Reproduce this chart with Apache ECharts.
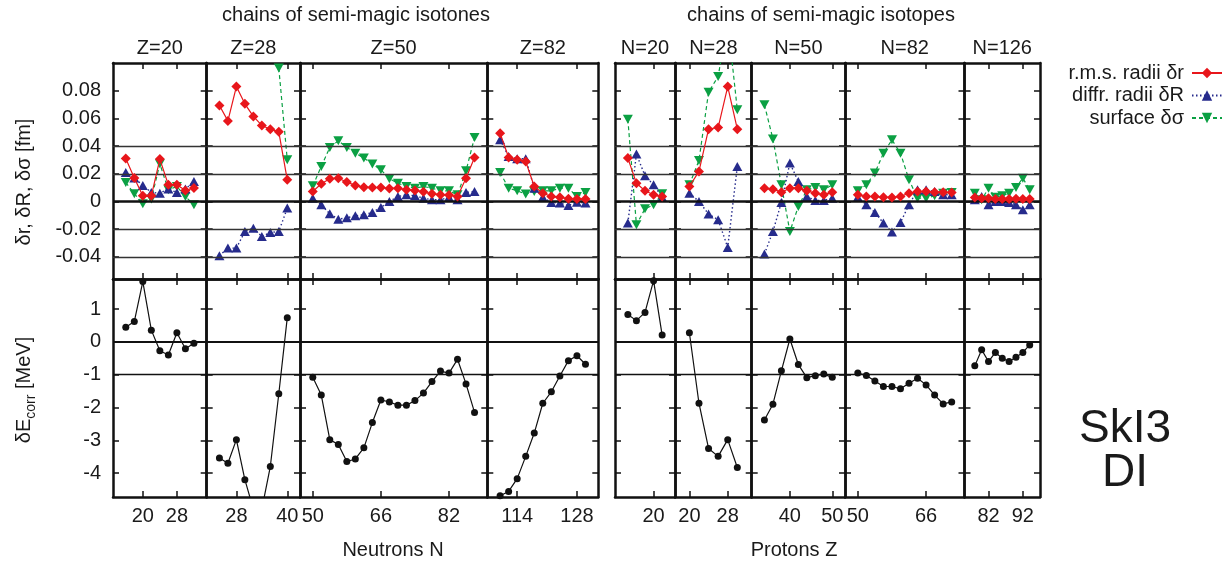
<!DOCTYPE html>
<html><head><meta charset="utf-8">
<script src="https://cdn.jsdelivr.net/npm/echarts@6/dist/echarts.min.js"></script>
<style>html,body{margin:0;padding:0;background:#fff;} #c{width:1232px;height:565px;}</style>
</head><body><div id="c"></div>
<script>
// ---------------- DATA ----------------
const chainLabels = ['Z=20','Z=28','Z=50','Z=82','N=20','N=28','N=50','N=82','N=126'];

// isotone chains (x = neutron number N)
const x_Z20  = [16,18,20,22,24,26,28,30,32];
const dr_Z20 = [0.031,0.017,0.0041,0.0041,0.0306,0.012,0.012,0.0079,0.0097];
const dR_Z20 = [0.021,0.017,0.0116,0.0065,0.006,0.009,0.0065,0.009,0.0144];
const ds_Z20 = [0.0137,0.0056,-0.0017,0.0017,0.0272,0.0084,0.0108,0.0036,-0.0024];
const dE_Z20 = [0.45,0.62,1.84,0.36,-0.27,-0.40,0.28,-0.21,-0.04];

const x_Z28  = [24,26,28,30,32,34,36,38,40];
const dr_Z28 = [0.0693,0.0582,0.083,0.0705,0.0614,0.0549,0.0522,0.0503,0.0156];
const dR_Z28 = [-0.0392,-0.0337,-0.0337,-0.0217,-0.0193,-0.0253,-0.0224,-0.0217,-0.0048];
const ds_Z28 = [null,null,null,null,null,null,null,0.0963,0.0301];
const dE_Z28 = [-3.54,-3.70,-2.98,-4.20,-5.1,-5.1,-3.80,-1.58,0.74];

const x_Z50  = [50,52,54,56,58,60,62,64,66,68,70,72,74,76,78,80,82,84,86,88];
const dr_Z50 = [0.0072,0.0128,0.0164,0.0168,0.014,0.0116,0.0103,0.0101,0.0101,0.0094,0.0096,0.0084,0.0079,0.007,0.0055,0.0048,0.0046,0.0036,0.0168,0.0318];
const dR_Z50 = [0.0024,-0.0024,-0.0089,-0.0128,-0.0118,-0.0103,-0.0096,-0.0079,-0.0043,0,0.0036,0.0048,0.0041,0.0024,0.0012,0.0012,0.0031,0.0012,0.0065,0.0072];
const ds_Z50 = [0.0113,0.0253,0.039,0.0438,0.039,0.0349,0.0313,0.027,0.0229,0.0164,0.0132,0.0108,0.0096,0.0108,0.0096,0.0077,0.0077,0.0048,0.0221,0.0462];
const dE_Z50 = [-1.08,-1.62,-2.98,-3.13,-3.65,-3.57,-3.23,-2.46,-1.77,-1.83,-1.93,-1.93,-1.79,-1.56,-1.21,-0.89,-0.95,-0.53,-1.28,-2.15];

const x_Z82  = [110,112,114,116,118,120,122,124,126,128,130];
const dr_Z82 = [0.0493,0.0318,0.0301,0.0289,0.0108,0.006,0.0036,0.0031,0.0019,0.0017,0.0017];
const dR_Z82 = [0.0445,0.0325,0.0308,0.0308,0.0096,0.0031,-0.0007,-0.0012,-0.0029,-0.0005,-0.0012];
const ds_Z82 = [0.0209,0.0096,0.0077,0.0053,0.0072,0.0077,0.0077,0.0096,0.0096,0.0036,0.0065];
const dE_Z82 = [-4.69,-4.56,-4.17,-3.49,-2.78,-1.87,-1.52,-1.04,-0.57,-0.42,-0.68];

// isotope chains (x = proton number Z)
const x_N20  = [14,16,18,20,22];
const dr_N20 = [0.0313,0.0132,0.0077,0.0048,0.0036];
const dR_N20 = [-0.0156,0.0342,0.0185,0.012,0.0031];
const ds_N20 = [0.0594,-0.0168,-0.0053,-0.0024,0.0055];
const dE_N20 = [0.84,0.65,0.90,1.87,0.21];

const x_N28  = [20,22,24,26,28,30];
const dr_N28 = [0.0108,0.0217,0.0522,0.0534,0.083,0.0522];
const dR_N28 = [0.006,0,-0.0091,-0.0132,-0.0332,0.0253];
const ds_N28 = [0.012,0.0296,0.0789,0.0903,0.13,0.0662];
const dE_N28 = [0.28,-1.87,-3.25,-3.49,-2.98,-3.83];

const x_N50  = [34,36,38,40,42,44,46,48,50];
const dr_N50 = [0.0096,0.0089,0.0067,0.0096,0.0096,0.0077,0.006,0.0048,0.0067];
const dR_N50 = [-0.038,-0.0217,-0.0007,0.0277,0.0144,0.0036,0.0007,0.0007,0.0024];
const ds_N50 = [0.0698,0.0452,0.012,-0.0217,-0.0036,0.0084,0.0101,0.0084,0.012];
const dE_N50 = [-2.38,-1.90,-0.88,0.09,-0.69,-1.09,-1.03,-0.98,-1.08];

const x_N82  = [50,52,54,56,58,60,62,64,66,68,70,72];
const dr_N82 = [0.0048,0.0036,0.0036,0.0031,0.0029,0.0036,0.006,0.0072,0.0072,0.0067,0.0067,0.0065];
const dR_N82 = [0.0031,-0.0024,-0.0079,-0.0156,-0.0221,-0.0152,-0.0024,0.0084,0.0084,0.0072,0.0048,0.0048];
const ds_N82 = [0.0077,0.012,0.0205,0.0349,0.0445,0.0349,0.0156,0.0024,0.0024,0.0041,0.006,0.0065];
const dE_N82 = [-0.95,-1.02,-1.19,-1.36,-1.36,-1.43,-1.26,-1.11,-1.31,-1.62,-1.89,-1.83];

const x_N126  = [78,80,82,84,86,88,90,92,94];
const dr_N126 = [0.0029,0.0024,0.0024,0.0017,0.0017,0.0017,0.0019,0.0017,0.0017];
const dR_N126 = [0.0012,0.0036,-0.0024,0,0,-0.0007,-0.0024,-0.006,-0.0024];
const ds_N126 = [0.006,0.0012,0.0096,0.0031,0.0041,0.006,0.0101,0.0168,0.0084];
const dE_N126 = [-0.73,-0.24,-0.60,-0.32,-0.50,-0.60,-0.47,-0.32,-0.09];

// tick labels
const xTicks = [[20,28],[28,40],[50,66,82],[114,128],[20],[20,28],[40,50],[50,66],[82,92]];
const yTicksTop = [-0.04,-0.02,0,0.02,0.04,0.06,0.08];
const yTicksBottom = [-4,-3,-2,-1,0,1];
const seriesNames = ['r.m.s. radii δr','diffr. radii δR','surface δσ'];

// ---------------- LAYOUT ----------------
const xRanges = [[13,35],[21,43],[47,91],[107,133],[11,25],[17,33],[31,53],[47,75],[75,97]];
const panelL = [113,206.7,300,487.3,615,675,751.7,845,964.5];
const panelR = [206.7,300,487.3,598.3,675,751.7,845,964.5,1040];
const rowTop = [63,279], rowH = [216,218];
const yRanges = [[-0.056,0.1],[-4.73,1.92]];

const panels = [
  {x:x_Z20,dr:dr_Z20,dR:dR_Z20,ds:ds_Z20,dE:dE_Z20},
  {x:x_Z28,dr:dr_Z28,dR:dR_Z28,ds:ds_Z28,dE:dE_Z28},
  {x:x_Z50,dr:dr_Z50,dR:dR_Z50,ds:ds_Z50,dE:dE_Z50},
  {x:x_Z82,dr:dr_Z82,dR:dR_Z82,ds:ds_Z82,dE:dE_Z82},
  {x:x_N20,dr:dr_N20,dR:dR_N20,ds:ds_N20,dE:dE_N20},
  {x:x_N28,dr:dr_N28,dR:dR_N28,ds:ds_N28,dE:dE_N28},
  {x:x_N50,dr:dr_N50,dR:dR_N50,ds:ds_N50,dE:dE_N50},
  {x:x_N82,dr:dr_N82,dR:dR_N82,ds:ds_N82,dE:dE_N82},
  {x:x_N126,dr:dr_N126,dR:dR_N126,ds:ds_N126,dE:dE_N126}
];

const FONT = "'Liberation Sans', Arial, Helvetica, sans-serif";
const TXT = '#1a1a1a';
const RED = '#e8161b', BLUE = '#262b8c', GREEN = '#0ba043';
const DIAMOND = 'path://M0,-1L1,0L0,1L-1,0Z';
const TRI_UP = 'path://M0,-1L1,1L-1,1Z';
const TRI_DN = 'path://M-1,-1L1,-1L0,1Z';

const grids=[], xAxes=[], yAxes=[], series=[], graphics=[];
const pair = (xs, ys) => xs.map((x,k)=> [x, ys[k]==null ? '-' : ys[k]]);

panels.forEach((p,i)=>{
  [0,1].forEach(row=>{
    const gi = grids.length;
    grids.push({left:panelL[i], top:rowTop[row], width:panelR[i]-panelL[i], height:rowH[row], show:false});
    const axLine = {show:true, onZero:false, lineStyle:{color:'#111', width:2.5}};
    ['bottom','top'].forEach(pos=>{
      xAxes.push({type:'value', gridIndex:gi, position:pos, min:xRanges[i][0], max:xRanges[i][1],
        axisLine:axLine,
        axisTick:{show:true, inside:true, length:6, customValues:xTicks[i], lineStyle:{color:'#111', width:1.5}},
        axisLabel:{show: row===1 && pos==='bottom', customValues:xTicks[i], margin:9, fontSize:20, color:TXT, fontFamily:FONT},
        splitLine:{show:false}});
    });
    const yt = row===0 ? yTicksTop : yTicksBottom;
    ['left','right'].forEach(pos=>{
      yAxes.push({type:'value', gridIndex:gi, position:pos, min:yRanges[row][0], max:yRanges[row][1],
        axisLine:axLine,
        axisTick:{show:true, inside:true, length:6, customValues:yt, lineStyle:{color:'#111', width:1.5}},
        axisLabel:{show: i===0 && pos==='left', customValues:yt, margin:12, fontSize:20, color:TXT, fontFamily:FONT,
          formatter: v => row===0 ? (v===0 ? '0' : v.toFixed(2)) : String(v)},
        splitLine:{show:false}});
    });
    const xi = 2*gi, yi = 2*gi;
    // reference lines
    const lines = row===0
      ? [[0.04,1.3,'#333'],[0.02,1.3,'#333'],[-0.02,1.3,'#333'],[-0.04,1.3,'#333'],[0,2.5,'#111']]
      : [[0,2,'#111'],[-1,1.3,'#111']];
    series.push({type:'line', xAxisIndex:xi, yAxisIndex:yi, data:[], silent:true, z:1,
      markLine:{silent:true, symbol:['none','none'], label:{show:false}, animation:false,
        data: lines.map(l=>({yAxis:l[0], lineStyle:{width:l[1], color:l[2], type:'solid'}}))}});
    if(row===0){
      series.push({name:seriesNames[2], type:'line', xAxisIndex:xi, yAxisIndex:yi, data:pair(p.x,p.ds), z:3,
        symbol:TRI_DN, symbolSize:[10,9], itemStyle:{color:GREEN},
        lineStyle:{color:GREEN, width:1.2, type:[4,3]}, clip:true});
      series.push({name:seriesNames[1], type:'line', xAxisIndex:xi, yAxisIndex:yi, data:pair(p.x,p.dR), z:4,
        symbol:TRI_UP, symbolSize:[10,9], itemStyle:{color:BLUE},
        lineStyle:{color:BLUE, width:1.4, type:[1.5,2.5]}, clip:true});
      series.push({name:seriesNames[0], type:'line', xAxisIndex:xi, yAxisIndex:yi, data:pair(p.x,p.dr), z:5,
        symbol:DIAMOND, symbolSize:[10,10], itemStyle:{color:RED},
        lineStyle:{color:RED, width:1.2, type:'solid'}, clip:true});
    } else {
      series.push({name:'dE', type:'line', xAxisIndex:xi, yAxisIndex:yi, data:pair(p.x,p.dE), z:4,
        symbol:'circle', symbolSize:7, itemStyle:{color:'#111'},
        lineStyle:{color:'#111', width:1.2}, clip:true});
    }
  });
  graphics.push({type:'text', x:(panelL[i]+panelR[i])/2, y:48,
    style:{text:chainLabels[i], fontSize:20, fontFamily:FONT, fill:TXT, align:'center', verticalAlign:'middle'}});
});

const T = (x,y,text,size,extra) => Object.assign({type:'text', x:x, y:y,
  style:{text:text, fontSize:size, fontFamily:FONT, fill:TXT, align:'center', verticalAlign:'middle'}}, extra||{});
graphics.push(T(356,15,'chains of semi-magic isotones',20));
graphics.push(T(821,15,'chains of semi-magic isotopes',20));
graphics.push(T(393,550,'Neutrons N',20));
graphics.push(T(794,550,'Protons Z',20));
graphics.push(T(1125,429,'SkI3',46));
graphics.push(T(1125,473,'DI',46));
graphics.push(T(24,182,'δr, δR, δσ [fm]',20,{rotation:Math.PI/2}));
graphics.push({type:'text', x:24, y:390, rotation:Math.PI/2,
  style:{text:'{a|δE}{b|corr}{a| [MeV]}', fontFamily:FONT, fill:TXT, align:'center', verticalAlign:'middle',
    rich:{a:{fontSize:20, fontFamily:FONT, fill:TXT, lineHeight:28, verticalAlign:'middle'},
          b:{fontSize:14, fontFamily:FONT, fill:TXT, lineHeight:28, verticalAlign:'bottom'}}}});

const legendTops = [63,85.5,108];
const legends = seriesNames.map((n,k)=>({data:[n], right:9, top:legendTops[k], align:'right', orient:'vertical',
  padding:0, itemWidth:30, itemHeight:13, selectedMode:false,
  textStyle:{fontSize:20, fontFamily:FONT, color:TXT, padding:[0,3,0,0]}}));

const chart = echarts.init(document.getElementById('c'), null, {renderer:'canvas'});
chart.setOption({animation:false, backgroundColor:'#fff', grid:grids, xAxis:xAxes, yAxis:yAxes,
  series:series, graphic:graphics, legend:legends});
</script></body></html>
